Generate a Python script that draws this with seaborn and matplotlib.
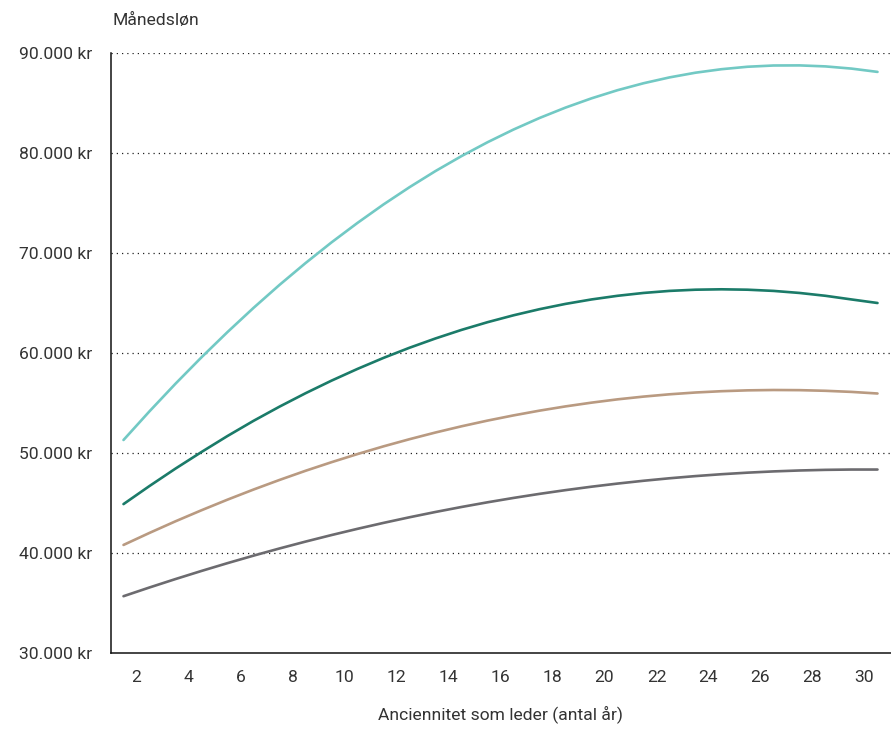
import seaborn as sns
import matplotlib.pyplot as plt
import matplotlib.ticker as mticker
import pandas as pd

# Years of seniority (line points)
years = [1.5 + i for i in range(30)]

# Monthly salary
top_line = [51300, 54170, 56930, 59570, 62095, 64510, 66810, 68990, 71060, 73010,
            74855, 76580, 78195, 79690, 81075, 82345, 83500, 84540, 85465, 86280,
            86975, 87560, 88030, 88380, 88625, 88750, 88760, 88660, 88440, 88110]
second_line = [44890, 46700, 48440, 50100, 51700, 53215, 54635, 55975, 57235, 58410,
               59510, 60525, 61455, 62310, 63080, 63770, 64380, 64910, 65355, 65720,
               66005, 66210, 66330, 66370, 66330, 66210, 66005, 65720, 65355, 65000]
third_line = [40806, 42010, 43170, 44275, 45335, 46345, 47305, 48220, 49080, 49895,
              50665, 51380, 52050, 52670, 53240, 53760, 54235, 54660, 55035, 55365,
              55640, 55870, 56050, 56180, 56265, 56300, 56285, 56220, 56110, 55950]
bottom_line = [35680, 36553, 37395, 38206, 38986, 39735, 40453, 41139, 41794, 42418,
               43011, 43573, 44103, 44602, 45070, 45507, 45913, 46287, 46630, 46942,
               47223, 47473, 47691, 47878, 48034, 48159, 48252, 48315, 48346, 48346]

series_names = ["a", "b", "c", "d"]
colors = ["#72c9c4", "#1b7b69", "#b99a81", "#6c6b6f"]

df = pd.DataFrame({
    "year": years * 4,
    "salary": top_line + second_line + third_line + bottom_line,
    "series": [n for n in series_names for _ in years],
})

sns.set_style("white")
plt.rcParams["font.family"] = ["Roboto", "DejaVu Sans"]

fs = 12.6
txt = "#333333"

fig = plt.figure(figsize=(8.91, 7.29), dpi=100)
ax = fig.add_axes([110.5 / 891, 1 - 653 / 729, 780 / 891, 600 / 729])

sns.lineplot(data=df, x="year", y="salary", hue="series", palette=colors,
             linewidth=1.9, legend=False, ax=ax)

ax.set_xlim(1, 31)
ax.set_ylim(30000, 90000)

# dotted horizontal grid
for v in range(40000, 90001, 10000):
    ax.axhline(v, color="#222222", lw=0.9, linestyle=(0, (1, 3.2)), zorder=0)

ax.xaxis.set_major_locator(mticker.FixedLocator(list(range(2, 31, 2))))
ax.xaxis.set_minor_locator(mticker.FixedLocator(list(range(3, 32, 2))))
ax.yaxis.set_major_locator(mticker.MultipleLocator(10000))
ax.yaxis.set_major_formatter(mticker.FuncFormatter(
    lambda v, p: f"{int(v):,} kr".replace(",", ".")))

ax.tick_params(axis="x", which="major", length=0, pad=12, labelsize=fs, labelcolor=txt)
ax.tick_params(axis="x", which="minor", direction="in", length=8.5, width=1.1, color="#222222")
ax.tick_params(axis="y", length=0, pad=13, labelsize=fs, labelcolor=txt)

for side in ["top", "right"]:
    ax.spines[side].set_visible(False)
for side in ["left", "bottom"]:
    ax.spines[side].set_color("#111111")
    ax.spines[side].set_linewidth(1.1)

ax.set_xlabel("Anciennitet som leder (antal år)", fontsize=fs, color=txt, labelpad=15)
ax.set_ylabel("")
fig.text(113 / 891, 1 - 20 / 729, "Månedsløn", fontsize=fs, color=txt,
         ha="left", va="center")

fig.savefig("out.png", dpi=100)
